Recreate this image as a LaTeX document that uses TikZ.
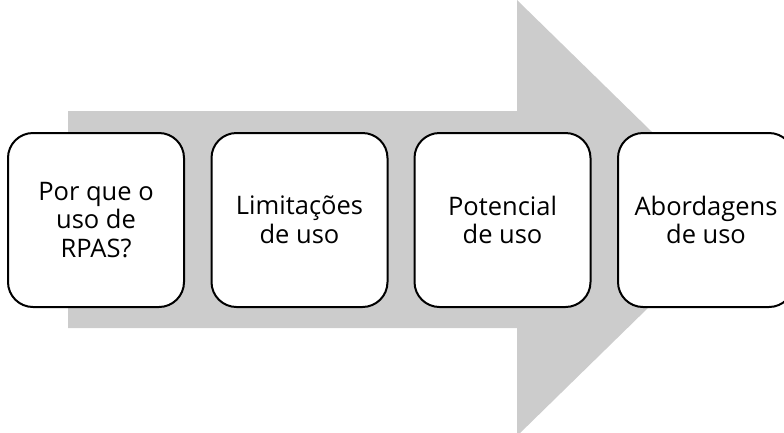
\documentclass[tikz,border=0pt]{standalone}
\usepackage{fontspec}
\setmainfont{Open Sans}
\definecolor{setacinza}{HTML}{CCCCCC}
\tikzset{
  etapa/.style={draw=black, line width=2pt, fill=white, rounded corners=25pt,
    minimum width=176pt, minimum height=174pt, align=center,
    font=\fontsize{25.5}{28.5}\selectfont}
}
\begin{document}
\begin{tikzpicture}[x=1pt, y=-1pt]
	\useasboundingbox (0,0) rectangle (784,432);
	\clip (0,0) rectangle (784,432);
	% seta de fundo
	\fill[setacinza] (68,111) -- (517,111) -- (517,0) -- (740,218) -- (517,436) -- (517,328) -- (68,328) -- cycle;

	\node[etapa] (porque) at (96,220) {Por que o\\uso de\\RPAS?};
	\node[etapa] (limitacoes) at (299.5,220) {Limitações\\de uso};
	\node[etapa] (potencial) at (502.5,220) {Potencial\\de uso};
	\node[etapa] (abordagens) at (706,220) {Abordagens\\de uso};
\end{tikzpicture}
\end{document}
